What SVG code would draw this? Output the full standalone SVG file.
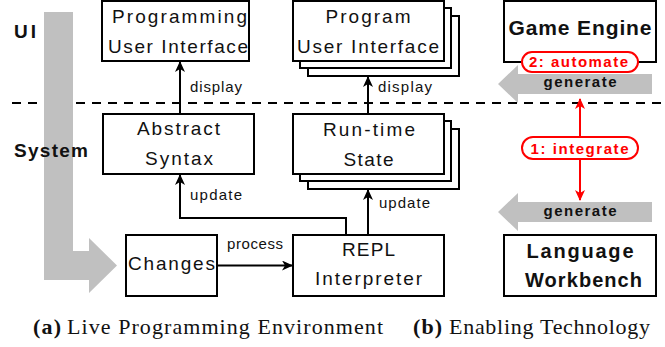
<svg xmlns="http://www.w3.org/2000/svg" width="665" height="347" viewBox="0 0 665 347">
<defs>
<style>
.box{fill:#fff;stroke:#000;stroke-width:2}
.t{font-family:"Liberation Sans",Arial,sans-serif;font-size:19px;fill:#111;text-anchor:middle}
.s{font-family:"Liberation Sans",Arial,sans-serif;font-size:15px;fill:#111}
.b{font-family:"Liberation Sans",Arial,sans-serif;font-weight:bold;fill:#111}
.red{font-family:"Liberation Sans",Arial,sans-serif;font-weight:bold;font-size:15px;fill:#f00;text-anchor:middle}
.cap{font-family:"Liberation Serif","Times New Roman",serif;font-size:22px;fill:#111}
.conn{fill:none;stroke:#000;stroke-width:2}
.rconn{fill:none;stroke:#f00;stroke-width:2}
.grey{fill:#c0c0c0}
.pill{fill:#fff;stroke:#f00;stroke-width:2}
</style>
<marker id="ah" markerUnits="userSpaceOnUse" markerWidth="12" markerHeight="10" refX="10" refY="5" orient="auto">
<path d="M0,0 L11,5 L0,10 L3,5 Z" fill="#000"/>
</marker>
<marker id="rah" markerUnits="userSpaceOnUse" markerWidth="12" markerHeight="10" refX="10" refY="5" orient="auto-start-reverse">
<path d="M0,0 L11,5 L0,10 L3,5 Z" fill="#f00"/>
</marker>
</defs>
<rect width="665" height="347" fill="#fff"/>

<g id="divider">
<line x1="12" y1="103" x2="665" y2="103" stroke="#000" stroke-width="2" stroke-dasharray="9 7"/>
</g>

<g id="flow-arrow">
<polygon class="grey" points="44,12 73,12 73,251 89,251 89,238 117,265.5 89,293 89,280 44,280"/>
</g>

<g id="layer-labels">
<text class="b" x="14" y="38" font-size="19" textLength="22">UI</text>
<text class="b" x="14" y="157" font-size="19" textLength="74">System</text>
</g>

<g id="connectors">
<line class="conn" x1="180" y1="114" x2="180" y2="62" marker-end="url(#ah)"/>
<line class="conn" x1="368" y1="114" x2="368" y2="77" marker-end="url(#ah)"/>
<path class="conn" d="M346,235 V218 H180 V175" marker-end="url(#ah)"/>
<line class="conn" x1="368" y1="235" x2="368" y2="190" marker-end="url(#ah)"/>
<line class="conn" x1="217" y1="265.5" x2="292" y2="265.5" marker-end="url(#ah)"/>
<text class="s" x="190" y="92" textLength="52">display</text>
<text class="s" x="378" y="92" textLength="54">display</text>
<text class="s" x="190" y="200" textLength="52">update</text>
<text class="s" x="379" y="208" textLength="51">update</text>
<text class="s" x="227" y="249" textLength="56">process</text>
</g>

<g id="programming-ui">
<rect class="box" x="102" y="1" width="147" height="60"/>
<text class="t" x="179.5" y="23" textLength="135">Programming</text>
<text class="t" x="178" y="53" textLength="140">User Interface</text>
</g>

<g id="program-ui">
<rect class="box" x="308" y="16" width="151" height="60"/>
<rect class="box" x="300" y="8" width="151" height="60"/>
<rect class="box" x="293" y="1" width="151" height="60"/>
<text class="t" x="368" y="23" textLength="85">Program</text>
<text class="t" x="368" y="53" textLength="142">User Interface</text>
</g>

<g id="abstract-syntax">
<rect class="box" x="103" y="114" width="151" height="60"/>
<text class="t" x="178.5" y="135" textLength="83">Abstract</text>
<text class="t" x="179" y="165" textLength="68">Syntax</text>
</g>

<g id="runtime-state">
<rect class="box" x="308" y="129" width="151" height="60"/>
<rect class="box" x="300" y="121" width="151" height="60"/>
<rect class="box" x="293" y="114" width="151" height="60"/>
<text class="t" x="369" y="136" textLength="92">Run-time</text>
<text class="t" x="368.5" y="165.5" textLength="50">State</text>
</g>

<g id="changes">
<rect class="box" x="126" y="235" width="91" height="61"/>
<text class="t" x="171.5" y="270" textLength="87">Changes</text>
</g>

<g id="repl">
<rect class="box" x="293" y="235" width="151" height="61"/>
<text class="t" x="368.5" y="256" textLength="53">REPL</text>
<text class="t" x="368.5" y="285" textLength="107">Interpreter</text>
</g>

<g id="game-engine">
<rect class="box" x="504" y="1" width="152" height="61"/>
<text class="b" x="580" y="35" font-size="21" text-anchor="middle" textLength="143">Game Engine</text>
</g>

<g id="generate-top">
<polygon class="grey" points="652,74 518,74 518,65 498,84 518,103 518,94 652,94"/>
<text class="b" x="580" y="87" font-size="15" text-anchor="middle" textLength="73">generate</text>
</g>

<g id="generate-bottom">
<polygon class="grey" points="652,202 518,202 518,193 498,212 518,231 518,222 652,222"/>
<text class="b" x="580" y="216" font-size="15" text-anchor="middle" textLength="73">generate</text>
</g>

<g id="language-workbench">
<rect class="box" x="504" y="235" width="152" height="61"/>
<text class="b" x="580" y="258" font-size="20" text-anchor="middle" textLength="107">Language</text>
<text class="b" x="583.5" y="287" font-size="20" text-anchor="middle" textLength="117">Workbench</text>
</g>

<g id="red-connectors">
<line class="rconn" x1="580" y1="99" x2="580" y2="200" marker-start="url(#rah)" marker-end="url(#rah)"/>
</g>

<g id="automate">
<rect class="pill" x="522" y="52" width="116" height="20" rx="10"/>
<text class="red" x="578.5" y="67" textLength="99">2: automate</text>
</g>

<g id="integrate">
<rect class="pill" x="522" y="137" width="116" height="22" rx="11"/>
<text class="red" x="579.5" y="154" textLength="98">1: integrate</text>
</g>

<g id="captions">
<text class="cap" x="33" y="334" font-weight="bold" textLength="28">(a)</text>
<text class="cap" x="67" y="334" textLength="316">Live Programming Environment</text>
<text class="cap" x="413" y="334" font-weight="bold" textLength="29">(b)</text>
<text class="cap" x="449" y="334" textLength="201">Enabling Technology</text>
</g>
</svg>
